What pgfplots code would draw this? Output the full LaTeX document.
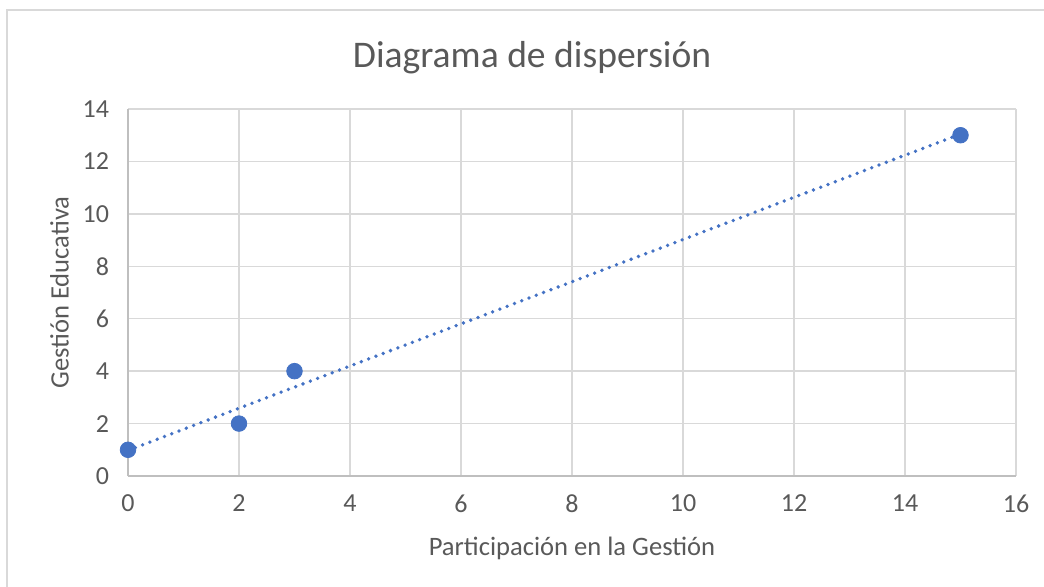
\documentclass[border=0pt]{standalone}
\usepackage{pgfplots}
\pgfplotsset{compat=1.18}
\usepackage{fontspec}
\setmainfont{Carlito}
\definecolor{ptblue}{HTML}{4472C4}
\definecolor{txtgray}{HTML}{595959}
\definecolor{gridgray}{HTML}{D9D9D9}
\definecolor{axgray}{HTML}{BFBFBF}
\begin{document}
\begin{tikzpicture}
\useasboundingbox (0,0) rectangle (522pt,293pt);
\draw[gridgray, line width=0.8pt] (3.5pt,-10pt) -- (3.5pt,288pt) -- (540pt,288pt);
\begin{axis}[
  at={(64pt,55pt)}, anchor=origin,
  scale only axis, width=444pt, height=183.5pt,
  xmin=0, xmax=16, ymin=0, ymax=14,
  xtick={0,2,...,16}, ytick={0,2,...,14},
  grid=major,
  major grid style={gridgray, line width=0.7pt},
  axis line style={draw=none},
  tick style={draw=none},
  ticklabel style={font=\fontsize{13pt}{15pt}\selectfont, text=txtgray},
  /pgf/number format/assume math mode=true,
  xticklabel style={yshift=-6pt},
  yticklabel style={xshift=-6pt},
  title={Diagrama de dispersión},
  title style={font=\fontsize{18.8pt}{22pt}\selectfont, text=txtgray, at={(0.455,1)}, yshift=8pt},
  xlabel={Participación en la Gestión},
  ylabel={Gestión Educativa},
  label style={font=\fontsize{13.3pt}{15pt}\selectfont, text=txtgray},
  xlabel style={yshift=-5pt},
  ylabel style={yshift=0pt},
  clip=false,
]
\draw[axgray, line width=0.8pt] (axis cs:0,0) -- (axis cs:16,0);
\draw[axgray, line width=0.8pt] (axis cs:0,0) -- (axis cs:0,14);
\addplot[ptblue, line width=1.9pt, line cap=round, dash pattern=on 0pt off 3.9pt, no marks] coordinates {(0,0.978) (15,13.043)};
\addplot[only marks, mark=*, mark size=3.9pt, ptblue, mark options={draw=ptblue, fill=ptblue}] coordinates {(0,1) (2,2) (3,4) (15,13)};
\end{axis}
\end{tikzpicture}
\end{document}
